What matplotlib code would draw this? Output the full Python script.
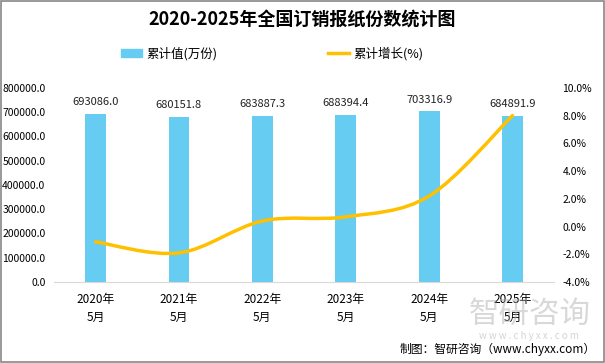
import numpy as np
import matplotlib
matplotlib.use("Agg")
import matplotlib.pyplot as plt
from matplotlib.path import Path
from matplotlib.patches import PathPatch, Patch
from matplotlib.lines import Line2D

plt.rcParams['font.family'] = ['Noto Sans CJK SC', 'DejaVu Sans']

# data
categories = ['2020年\n5月', '2021年\n5月', '2022年\n5月', '2023年\n5月', '2024年\n5月', '2025年\n5月']
totals = [693086.0, 680151.8, 683887.3, 688394.4, 703316.9, 684891.9]
growth = [-1.1, -1.9, 0.4, 0.7, 2.2, 8.0]

bar_color = '#66CCF2'
line_color = '#FFC000'


def smooth_path(xs, ys):
    """Catmull-Rom style bezier through the points (like Excel smoothed line)."""
    pts = list(zip(xs, ys))
    verts = [pts[0]]
    codes = [Path.MOVETO]
    for i in range(len(pts) - 1):
        p0 = pts[i - 1] if i > 0 else pts[i]
        p1 = pts[i]
        p2 = pts[i + 1]
        p3 = pts[i + 2] if i + 2 < len(pts) else pts[i + 1]
        c1 = (p1[0] + (p2[0] - p0[0]) / 6, p1[1] + (p2[1] - p0[1]) / 6)
        c2 = (p2[0] - (p3[0] - p1[0]) / 6, p2[1] - (p3[1] - p1[1]) / 6)
        verts += [c1, c2, p2]
        codes += [Path.CURVE4] * 3
    return Path(verts, codes)


fig = plt.figure(figsize=(6.05, 3.63), dpi=100)
ax = fig.add_axes([0.089, 0.223, 0.827, 0.535])
x = np.arange(len(categories))

ax.bar(x, totals, width=0.25, color=bar_color, zorder=2)
for xi, v in zip(x, totals):
    ax.text(xi, v + 28000, f'{v:.1f}', ha='center', va='bottom', fontsize=8, color='#222222')

ax.set_xlim(-0.5, len(categories) - 0.5)
ax.set_ylim(0, 800000)
ax.set_yticks(np.arange(0, 800001, 100000))
ax.set_yticklabels([f'{v:.1f}' for v in np.arange(0, 800001, 100000)])
ax.set_xticks(x)
ax.set_xticklabels(categories, fontsize=8.5, linespacing=1.5)
ax.tick_params(axis='y', length=0, labelsize=7.5, pad=6)
ax.tick_params(axis='x', length=0, pad=8)
for s in ['top', 'right', 'left']:
    ax.spines[s].set_visible(False)
ax.spines['bottom'].set_color('#D9D9D9')

ax2 = ax.twinx()
ax2.set_ylim(-4, 10)
ax2.set_yticks(np.arange(-4, 10.1, 2))
ax2.set_yticklabels([f'{v:.1f}%' for v in np.arange(-4, 10.1, 2)])
ax2.tick_params(axis='y', length=0, labelsize=7.5, pad=6)
for s in ax2.spines.values():
    s.set_visible(False)
ax2.add_patch(PathPatch(smooth_path(x, growth), fill=False, edgecolor=line_color,
                        lw=2.5, capstyle='round', zorder=3))

fig.text(0.5, 0.945, '2020-2025年全国订销报纸份数统计图', ha='center', va='center',
         fontsize=13, fontweight='bold')

handles = [Patch(color=bar_color), Line2D([], [], color=line_color, lw=2.5)]
fig.legend(handles, ['累计值(万份)', '累计增长(%)'], loc='center', bbox_to_anchor=(0.45, 0.853),
           ncol=2, frameon=False, fontsize=9, columnspacing=8.8, handlelength=1.7,
           handleheight=0.6, handletextpad=0.35)

# watermark
fig.text(0.875, 0.135, '智研咨询', ha='center', va='center', fontsize=22, color='#AAAAAA', alpha=0.45)
fig.text(0.875, 0.075, 'w w w . c h y x x . c o m', ha='center', va='center', fontsize=7,
         color='#AAAAAA', alpha=0.5)
fig.text(0.985, 0.038, '制图：智研咨询（www.chyxx.com）', ha='right', va='center', fontsize=8.5)

fig.patches.append(plt.Rectangle((0.001, 0.002), 0.997, 0.996, transform=fig.transFigure,
                                 fill=False, edgecolor='#888888', lw=1.2))

fig.savefig('out.png', dpi=100, facecolor='white')
